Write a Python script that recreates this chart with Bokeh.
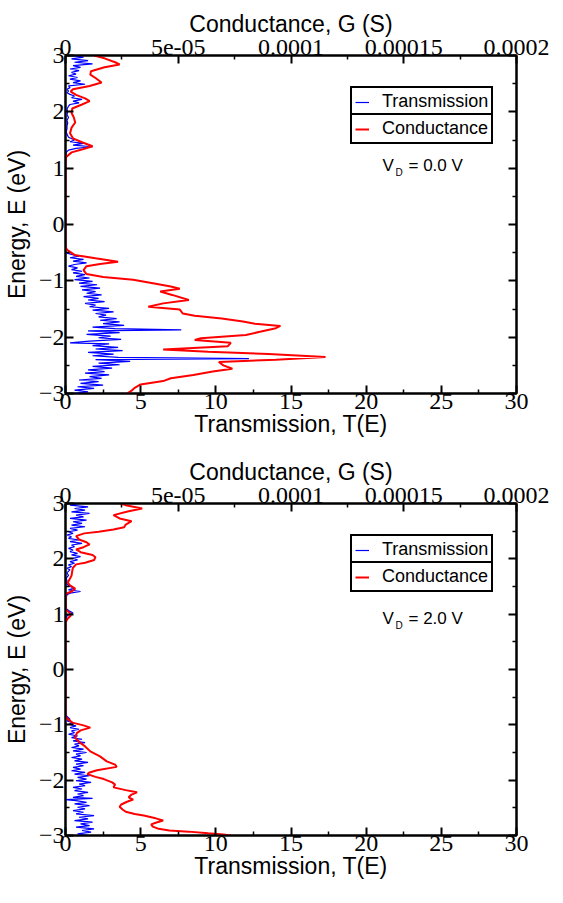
from bokeh.plotting import figure
from bokeh.models import Range1d, LinearAxis, FixedTicker, Legend, LegendItem, Label
from bokeh.layouts import column
from bokeh.embed import file_html
from bokeh.resources import INLINE

# ---------------- data ----------------
# Panel 1 (V_D = 0.0 V): transmission T(E)
top_trans_E = [3.0, 2.97, 2.94, 2.91, 2.88, 2.85, 2.82, 2.79, 2.76, 2.73,
               2.70, 2.67, 2.64, 2.61, 2.58, 2.55, 2.52, 2.49, 2.46, 2.43,
               2.40, 2.37, 2.34, 2.31, 2.28, 2.25, 2.22, 2.19, 2.16, 2.13,
               2.10, 2.05, 2.00, 1.95, 1.90, 1.85, 1.80, 1.75, 1.70, 1.65,
               1.60, 1.55, 1.50, 1.47, 1.44, 1.41, 1.38, 1.35, 1.32, 1.28,
               1.20, -0.50, -0.53, -0.56, -0.59, -0.62, -0.65, -0.68, -0.71, -0.74,
               -0.77, -0.80, -0.83, -0.86, -0.89, -0.92, -0.95, -0.98, -1.01, -1.04,
               -1.07, -1.10, -1.13, -1.16, -1.19, -1.22, -1.25, -1.28, -1.31, -1.34,
               -1.37, -1.40, -1.43, -1.46, -1.49, -1.52, -1.55, -1.58, -1.61, -1.64,
               -1.67, -1.70, -1.73, -1.76, -1.79, -1.82, -1.85, -1.87, -1.89, -1.92,
               -1.95, -1.98, -2.01, -2.04, -2.07, -2.10, -2.12, -2.15, -2.18, -2.21,
               -2.24, -2.27, -2.30, -2.33, -2.36, -2.38, -2.40, -2.43, -2.46, -2.49,
               -2.52, -2.55, -2.58, -2.61, -2.64, -2.67, -2.70, -2.73, -2.76, -2.79,
               -2.82, -2.85, -2.88, -2.91, -2.94, -2.97, -3.00]
top_trans_T = [0.3, 1.2, 0.4, 1.5, 0.6, 1.8, 0.5, 1.0, 0.3, 0.9,
               0.4, 0.7, 0.2, 0.8, 0.3, 1.0, 0.5, 1.3, 0.2, 0.3,
               0.1, 0.2, 0.1, 0.3, 0.6, 0.4, 1.1, 0.5, 0.9, 0.3,
               0.2, 0.1, 0.15, 0.1, 0.2, 0.1, 0.15, 0.1, 0.1, 0.05,
               0.1, 0.2, 0.6, 0.3, 1.2, 0.5, 1.8, 0.7, 0.2, 0.05,
               0.0, 0.0, 0.4, 0.9, 0.3, 1.2, 0.5, 1.4, 0.6, 0.2,
               0.8, 0.4, 1.1, 0.5, 1.3, 0.7, 1.6, 0.6, 1.8, 0.9,
               2.1, 1.0, 2.3, 1.1, 2.0, 1.4, 2.4, 1.2, 2.2, 1.5,
               2.6, 1.3, 2.0, 1.6, 2.9, 1.8, 3.2, 2.0, 2.7, 2.2,
               3.4, 2.3, 3.6, 2.5, 3.9, 1.8, 3.3, 7.7, 1.5, 3.6,
               1.4, 3.0, 2.2, 3.7, 1.6, 0.3, 2.9, 1.8, 3.5, 2.0,
               3.8, 1.5, 3.2, 1.8, 3.5, 12.2, 2.0, 4.3, 2.2, 3.6,
               1.8, 3.1, 1.5, 2.6, 1.3, 2.9, 1.6, 2.4, 0.9, 2.2,
               1.0, 2.5, 0.8, 1.9, 0.6, 1.5, 0.5]

# Panel 1: conductance G(E) in microsiemens
top_cond_E = [3.00, 2.95, 2.88, 2.84, 2.79, 2.72, 2.66, 2.60, 2.52, 2.46,
              2.40, 2.36, 2.30, 2.24, 2.19, 2.13, 2.06, 1.98, 1.90, 1.81,
              1.72, 1.62, 1.53, 1.46, 1.39, 1.34, 1.28, 1.20, 1.10, -0.40,
              -0.45, -0.54, -0.60, -0.66, -0.70, -0.74, -0.81, -0.88, -0.93, -0.98,
              -1.05, -1.10, -1.14, -1.19, -1.25, -1.34, -1.40, -1.46, -1.51, -1.58,
              -1.62, -1.67, -1.72, -1.76, -1.80, -1.84, -1.90, -1.96, -2.02, -2.05,
              -2.10, -2.16, -2.22, -2.26, -2.30, -2.35, -2.40, -2.44, -2.50, -2.56,
              -2.61, -2.67, -2.73, -2.78, -2.84, -2.90, -2.95, -3.00]
top_cond_uS = [12.7, 17.3, 22.0, 24.0, 17.3, 11.3, 11.0, 13.3, 16.0, 10.7,
               3.3, 2.3, 4.7, 8.7, 10.7, 7.3, 3.0, 2.7, 3.7, 4.3,
               2.7, 2.0, 3.3, 7.3, 12.0, 8.0, 2.7, 0.3, 0.0, 0.0,
               0.7, 4.0, 13.3, 23.3, 15.3, 9.3, 8.0, 9.3, 16.7, 30.0,
               40.0, 46.7, 50.7, 42.0, 47.3, 54.7, 43.3, 36.7, 50.7, 52.0,
               57.3, 69.3, 78.7, 84.0, 95.3, 93.3, 86.7, 80.0, 60.0, 57.3,
               73.3, 72.0, 43.3, 63.3, 90.0, 115.3, 93.3, 68.0, 70.0, 74.0,
               65.3, 56.7, 46.7, 43.3, 33.3, 30.7, 29.3, 27.3]

# Panel 2 (V_D = 2.0 V): transmission T(E)
bot_trans_E = [3.0, 2.97, 2.94, 2.91, 2.88, 2.85, 2.82, 2.79, 2.76, 2.73,
               2.70, 2.67, 2.64, 2.61, 2.58, 2.55, 2.52, 2.49, 2.46, 2.43,
               2.40, 2.37, 2.34, 2.31, 2.28, 2.25, 2.22, 2.19, 2.16, 2.13,
               2.10, 2.07, 2.04, 2.01, 1.98, 1.95, 1.92, 1.89, 1.86, 1.83,
               1.80, 1.75, 1.70, 1.65, 1.60, 1.55, 1.50, 1.47, 1.44, 1.41,
               1.38, 1.35, 1.25, 1.10, 1.05, 1.02, 0.99, 0.95, 0.85, -0.80,
               -0.85, -0.90, -0.93, -0.96, -0.99, -1.02, -1.05, -1.08, -1.11, -1.14,
               -1.17, -1.20, -1.23, -1.26, -1.29, -1.32, -1.35, -1.38, -1.41, -1.44,
               -1.47, -1.50, -1.53, -1.56, -1.59, -1.62, -1.65, -1.68, -1.71, -1.74,
               -1.77, -1.80, -1.83, -1.86, -1.89, -1.92, -1.95, -1.98, -2.01, -2.04,
               -2.07, -2.10, -2.13, -2.16, -2.19, -2.22, -2.25, -2.28, -2.31, -2.33,
               -2.35, -2.37, -2.40, -2.43, -2.46, -2.49, -2.52, -2.55, -2.58, -2.61,
               -2.64, -2.67, -2.70, -2.73, -2.76, -2.79, -2.82, -2.85, -2.88, -2.91,
               -2.94, -2.97, -3.00]
bot_trans_T = [1.0, 0.3, 1.5, 0.6, 1.3, 0.4, 1.6, 0.7, 1.2, 0.3,
               1.4, 0.5, 1.1, 0.4, 1.3, 0.3, 0.8, 0.2, 0.5, 0.1,
               0.4, 0.2, 0.9, 0.3, 1.1, 0.4, 0.6, 0.2, 0.5, 0.3,
               0.8, 0.4, 1.0, 0.5, 0.8, 0.3, 0.6, 0.2, 0.4, 0.1,
               0.3, 0.1, 0.2, 0.05, 0.1, 0.05, 0.3, 0.6, 0.2, 1.0,
               0.3, 0.1, 0.0, 0.05, 0.3, 0.5, 0.2, 0.05, 0.0, 0.0,
               0.1, 0.3, 0.1, 0.5, 0.2, 0.7, 0.3, 0.9, 0.4, 0.6,
               0.2, 0.8, 0.4, 1.1, 0.5, 1.3, 0.6, 0.9, 0.4, 1.2,
               0.5, 1.4, 0.7, 1.0, 0.4, 1.1, 0.6, 1.5, 0.7, 1.2,
               0.5, 1.0, 0.4, 1.3, 0.6, 1.6, 0.8, 1.4, 0.7, 1.7,
               0.9, 1.3, 0.5, 1.1, 0.6, 1.5, 0.8, 1.2, 0.5, 1.8,
               0.0, 0.7, 1.4, 0.6, 1.6, 0.8, 1.3, 0.5, 1.2, 0.7,
               1.9, 0.9, 1.5, 0.6, 1.8, 1.0, 1.6, 0.7, 1.9, 1.1,
               1.7, 0.8, 1.5]

# Panel 2: conductance G(E) in microsiemens
bot_cond_E = [3.00, 2.97, 2.91, 2.86, 2.79, 2.73, 2.68, 2.62, 2.57, 2.53,
              2.49, 2.46, 2.41, 2.35, 2.30, 2.26, 2.21, 2.17, 2.12, 2.07,
              2.03, 1.98, 1.93, 1.90, 1.84, 1.78, 1.70, 1.62, 1.57, 1.52,
              1.46, 1.41, 1.37, 1.20, 1.07, 1.02, 0.97, 0.92, 0.85, -0.80,
              -0.87, -0.96, -1.01, -1.05, -1.10, -1.15, -1.23, -1.31, -1.39, -1.48,
              -1.57, -1.66, -1.72, -1.76, -1.82, -1.86, -1.89, -1.94, -1.98, -2.04,
              -2.08, -2.13, -2.18, -2.22, -2.26, -2.31, -2.35, -2.39, -2.44, -2.48,
              -2.53, -2.57, -2.61, -2.64, -2.69, -2.73, -2.77, -2.80, -2.84, -2.88,
              -2.91, -2.93, -2.96, -2.98, -3.00]
bot_cond_uS = [24.0, 26.7, 34.0, 28.0, 21.3, 24.0, 29.3, 26.7, 26.0, 21.3,
               14.7, 8.3, 4.7, 6.0, 9.3, 10.7, 8.0, 4.7, 6.7, 12.0,
               13.3, 12.7, 8.7, 4.7, 3.3, 3.0, 2.7, 1.7, 1.0, 2.0,
               4.3, 2.7, 0.3, 0.0, 0.3, 2.0, 2.3, 1.0, 0.0, 0.0,
               0.3, 3.0, 8.0, 11.0, 6.7, 5.0, 4.3, 6.0, 8.7, 11.0,
               15.3, 18.3, 22.0, 22.7, 14.0, 10.7, 9.7, 13.3, 17.0, 20.7,
               22.0, 21.3, 26.7, 31.7, 29.3, 28.0, 30.0, 27.3, 24.7, 24.0,
               25.3, 26.7, 30.7, 34.7, 40.0, 43.3, 40.0, 38.0, 38.7, 41.3,
               46.0, 54.7, 63.3, 70.0, 73.3]

# axis ticks / labels
t_ticks = [0, 5, 10, 15, 20, 25, 30]
t_minor = [2.5, 7.5, 12.5, 17.5, 22.5, 27.5]
g_ticks_uS = [0, 50, 100, 150, 200]
g_minor_uS = [25, 75, 125, 175]
g_labels = ["0", "5e-05", "0.0001", "0.00015", "0.0002"]
e_ticks = [-3, -2, -1, 0, 1, 2, 3]
e_minor = [-2.5, -1.5, -0.5, 0.5, 1.5, 2.5]
bias_labels = ["= 0.0 V", "= 2.0 V"]

SANS = "Liberation Sans"
SERIF = "Liberation Serif"


def style_axis(ax, labels=True):
    ax.axis_line_width = 2
    ax.axis_line_color = "black"
    ax.major_tick_in = 8
    ax.major_tick_out = 0
    ax.minor_tick_in = 4
    ax.minor_tick_out = 0
    ax.major_tick_line_width = 2
    ax.minor_tick_line_width = 1.5
    ax.major_label_text_font = SERIF
    ax.major_label_text_font_size = "24px"
    ax.major_label_standoff = 1
    ax.axis_label_text_font = SANS
    ax.axis_label_text_font_size = "23px"
    ax.axis_label_text_font_style = "normal"
    ax.axis_label_text_color = "black"
    ax.major_label_text_color = "black" if labels else None


def make_panel(tE, tT, cE, cuS, bias, btop, frame_h, bbottom, vd_from_top):
    p = figure(width=555, height=btop + frame_h + bbottom,
               x_range=Range1d(0, 30), y_range=Range1d(-3, 3),
               output_backend="svg", toolbar_location=None,
               min_border_left=60, min_border_right=39,
               min_border_top=btop, min_border_bottom=bbottom,
               x_axis_location=None, y_axis_location=None)
    p.grid.visible = False
    p.outline_line_color = "black"
    p.outline_line_width = 2
    p.extra_x_ranges = {"g": Range1d(0, 200)}

    bottom = LinearAxis(axis_label="Transmission, T(E)",
                        ticker=FixedTicker(ticks=t_ticks, minor_ticks=t_minor))
    style_axis(bottom)
    bottom.major_label_standoff = 0
    bottom.axis_label_standoff = -1
    p.add_layout(bottom, "below")

    top = LinearAxis(x_range_name="g", axis_label="Conductance, G (S)",
                     ticker=FixedTicker(ticks=g_ticks_uS, minor_ticks=g_minor_uS),
                     major_label_overrides={t: l for t, l in zip(g_ticks_uS, g_labels)})
    style_axis(top)
    top.axis_label_standoff = 0
    p.add_layout(top, "above")

    left = LinearAxis(axis_label="Energy, E (eV)",
                      ticker=FixedTicker(ticks=e_ticks, minor_ticks=e_minor))
    style_axis(left)
    left.axis_label_standoff = 6
    p.add_layout(left, "left")

    right = LinearAxis(ticker=FixedTicker(ticks=e_ticks, minor_ticks=e_minor))
    style_axis(right, labels=False)
    p.add_layout(right, "right")

    r_t = p.line(tT, tE, line_color="#0000ff", line_width=1.2)
    r_g = p.line(cuS, cE, line_color="#ff0000", line_width=2, x_range_name="g")

    for name, r, y in (("Transmission", r_t, frame_h - 62), ("Conductance", r_g, frame_h - 89)):
        lg = Legend(items=[LegendItem(label=name, renderers=[r])], location=(285, y),
                    border_line_color="black", border_line_width=2, border_line_alpha=1,
                    background_fill_color="white", background_fill_alpha=1,
                    label_text_font=SANS, label_text_font_size="18px",
                    label_text_color="black",
                    padding=3, margin=0, spacing=0,
                    glyph_width=14, glyph_height=18, label_height=18, label_standoff=13)
        p.add_layout(lg)

    vd_y = frame_h - vd_from_top
    p.add_layout(Label(x=317, y=vd_y, x_units="screen", y_units="screen", text="V",
                       text_font=SANS, text_font_size="17px", text_baseline="middle",
                       text_color="black"))
    p.add_layout(Label(x=330, y=vd_y - 7, x_units="screen", y_units="screen", text="D",
                       text_font=SANS, text_font_size="10px", text_baseline="middle",
                       text_color="black"))
    p.add_layout(Label(x=343, y=vd_y, x_units="screen", y_units="screen", text=bias,
                       text_font=SANS, text_font_size="17px", text_baseline="middle",
                       text_color="black"))
    return p


p1 = make_panel(top_trans_E, top_trans_T, top_cond_E, top_cond_uS, bias_labels[0],
                55, 338, 53, 110)
p2 = make_panel(bot_trans_E, bot_trans_T, bot_cond_E, bot_cond_uS, bias_labels[1],
                57, 332, 52, 115)

layout = column(p1, p2, spacing=0)
open("out.html", "w").write(file_html(layout, INLINE))
